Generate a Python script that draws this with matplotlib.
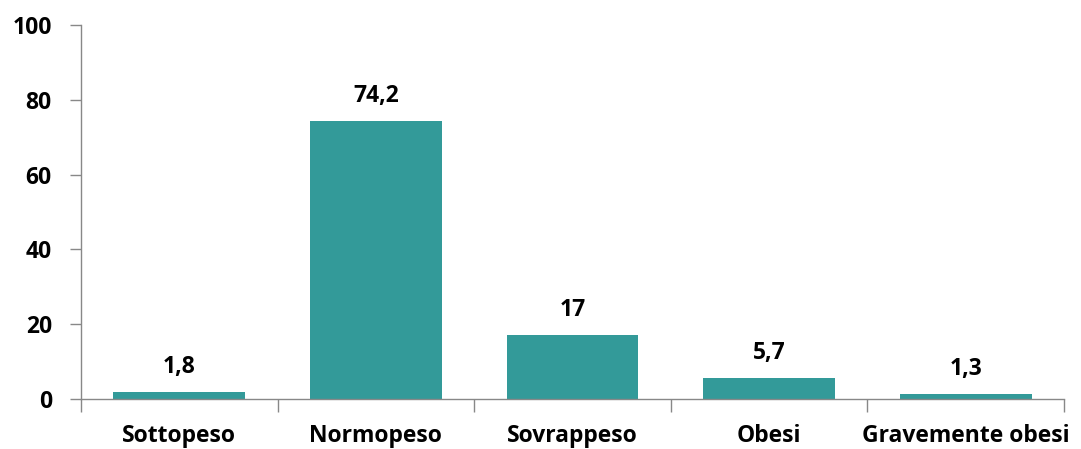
import matplotlib
matplotlib.use("Agg")
import matplotlib.pyplot as plt
import numpy as np

categories = ["Sottopeso", "Normopeso", "Sovrappeso", "Obesi", "Gravemente obesi"]
values = [1.8, 74.2, 17, 5.7, 1.3]
labels = ["1,8", "74,2", "17", "5,7", "1,3"]

plt.rcParams['font.family'] = ['Open Sans', 'DejaVu Sans']
W, H = 1081, 449
fig = plt.figure(figsize=(W/100, H/100), dpi=100)
ax = fig.add_axes([81/W, (H-399)/H, (1064-81)/W, (399-25)/H])

FS = 16.5
x = np.arange(len(categories))
ax.bar(x, values, width=0.67, color="#339a99", zorder=2)
for xi, v, lab in zip(x, values, labels):
    ax.text(xi, v + 5.1, lab, ha="center", va="baseline", fontsize=FS, fontweight="bold")

ax.set_xlim(-0.5, len(categories) - 0.5)
ax.set_ylim(0, 100)
ax.set_yticks(np.arange(0, 101, 20))
ax.set_yticklabels([str(t) for t in range(0, 101, 20)], fontsize=FS, fontweight="bold")
ax.set_xticks(x)
ax.set_xticklabels(categories, fontsize=FS, fontweight="bold")
ax.set_xticks(np.arange(-0.5, len(categories), 1), minor=True)
ax.tick_params(axis="x", which="major", length=0, pad=18)
ax.tick_params(axis="x", which="minor", length=9, color="#888888", width=1)
ax.tick_params(axis="y", length=8, color="#888888", width=1, pad=13)
for s in ["top", "right"]:
    ax.spines[s].set_visible(False)
for s in ["left", "bottom"]:
    ax.spines[s].set_color("#888888")
    ax.spines[s].set_linewidth(1)

fig.savefig("out.png", dpi=100)
